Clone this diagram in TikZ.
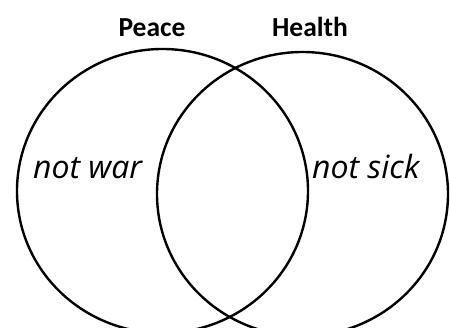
\documentclass[tikz,border=0pt]{standalone}
\usepackage{fontspec}
\setmainfont{Carlito}
\newfontfamily\handfont{Open Sans}
\usepackage{tikz}
\usetikzlibrary{positioning}

\begin{document}
\begin{tikzpicture}[x=1pt, y=-1pt, line width=2.4pt]

\useasboundingbox (0,0) rectangle (450,327);
\clip (0,0) rectangle (450,327);

% =============== CIRCLES ===============
\draw (162.5,191) ellipse [x radius=145.5, y radius=142];
\draw (302.5,194) ellipse [x radius=145.5, y radius=142];

% =============== TITLES ===============
\node[font=\fontsize{27.5}{30}\selectfont\bfseries, anchor=base, inner sep=0pt] (peace) at (152,36) {Peace};
\node[font=\fontsize{27.5}{30}\selectfont\bfseries, anchor=base, inner sep=0pt] (health) at (310,36) {Health};

% =============== LABELS ===============
\node[font=\handfont\itshape\fontsize{32}{35}\selectfont, anchor=base west, inner sep=0pt] (notwar) at (32,178) {not war};
\node[font=\handfont\itshape\fontsize{32}{35}\selectfont, anchor=base west, inner sep=0pt] (notsick) at (311,178) {not sick};

\end{tikzpicture}
\end{document}
